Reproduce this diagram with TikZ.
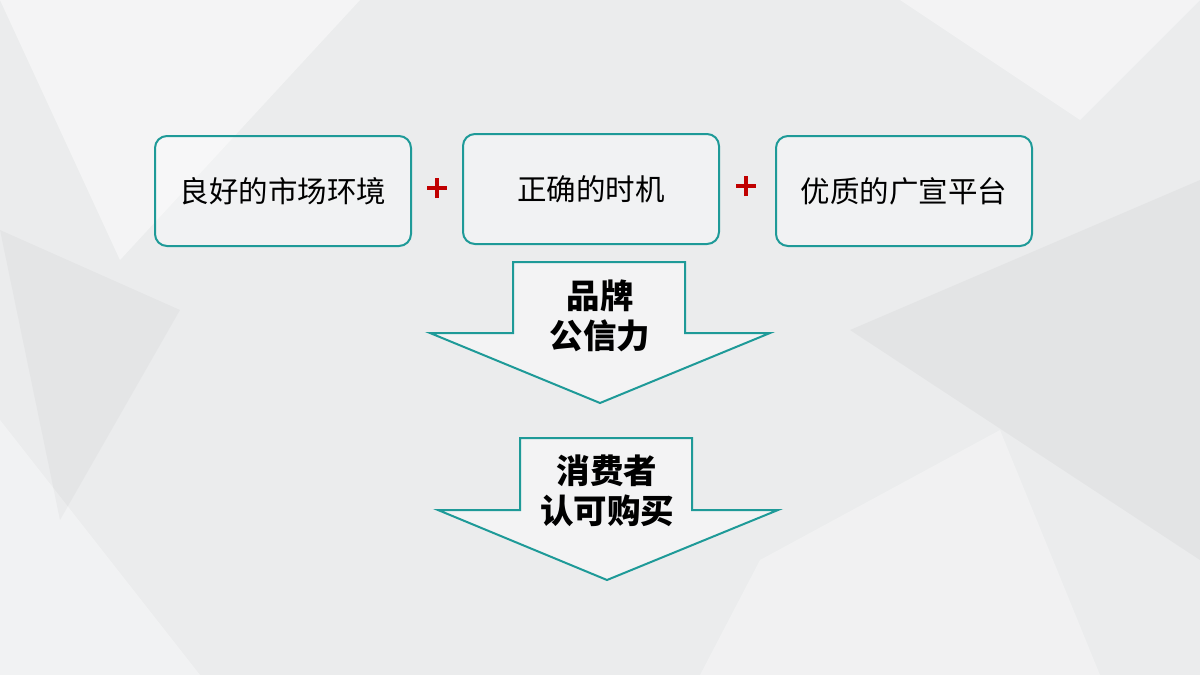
\documentclass[tikz,border=0pt]{standalone}
\usepackage{fontspec}
\newfontfamily\cjk{Noto Sans CJK SC}
\definecolor{teal1}{HTML}{1E9A98}
\definecolor{bg}{HTML}{EBECED}
\definecolor{plusred}{HTML}{C00000}
\begin{document}
\begin{tikzpicture}[x=1pt,y=-1pt,
  box/.style={draw=teal1,line width=2pt,rounded corners=12pt,fill=white,fill opacity=0.35,text opacity=1,minimum width=256pt,minimum height=110pt,font=\cjk\fontsize{29.5}{32}\selectfont},
  arrowshape/.style={draw=teal1,line width=2pt,fill=white,fill opacity=0.4},
  lbl/.style={font=\cjk\bfseries\fontsize{33.5}{40}\selectfont,align=center},
  plusbar/.style={draw=plusred,line width=4.5pt}]
\useasboundingbox (0,0) rectangle (1200,675);
\fill[bg] (0,0) rectangle (1200,675);
\fill[white,opacity=0.45] (0,0) -- (360,0) -- (120,260) -- cycle;
\fill[white,opacity=0.35] (0,420) -- (200,675) -- (0,675) -- cycle;
\fill[gray,opacity=0.07] (850,330) -- (1200,180) -- (1200,560) -- cycle;
\fill[white,opacity=0.4] (900,0) -- (1200,0) -- (1080,120) -- cycle;
\fill[gray,opacity=0.06] (0,230) -- (180,310) -- (60,520) -- cycle;
\fill[white,opacity=0.3] (760,560) -- (1000,430) -- (1100,675) -- (700,675) -- cycle;
\node[box] (b1) at (283,191) {良好的市场环境};
\node[box] (b2) at (591,189) {正确的时机};
\node[box] (b3) at (904,191) {优质的广宣平台};
\coordinate (p1) at (437,188);
\coordinate (p2) at (746,186);
\foreach \p in {p1,p2}{
  \draw[plusbar] ([xshift=-10pt]\p) -- ([xshift=10pt]\p);
  \draw[plusbar] ([yshift=-10pt]\p) -- ([yshift=10pt]\p);}
\draw[arrowshape] (513,262) -- (685,262) -- (685,333) -- (770,333) -- (600,403) -- (430,333) -- (513,333) -- cycle;
\draw[arrowshape] (520,438) -- (692,438) -- (692,510) -- (778,510) -- (607,580) -- (438,510) -- (520,510) -- cycle;
\node[lbl] (t1) at (600,316) {品牌\\公信力};
\node[lbl] (t2) at (607,491) {消费者\\认可购买};
\end{tikzpicture}
\end{document}
